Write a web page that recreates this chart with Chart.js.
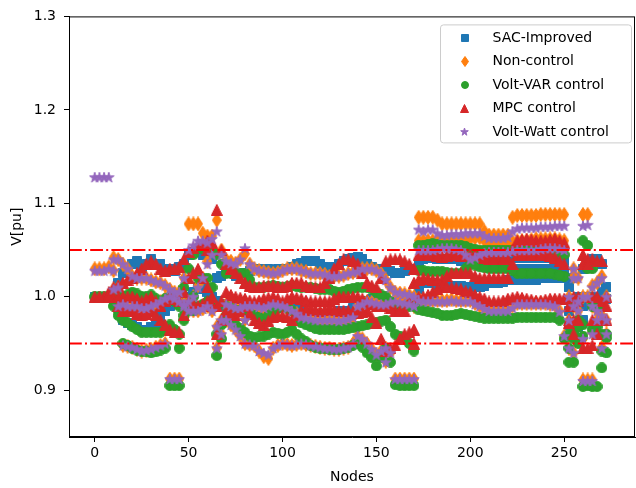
<!DOCTYPE html>
<html>
<head>
<meta charset="utf-8">
<script src="https://cdn.jsdelivr.net/npm/chart.js@4"></script>
<style>
  html, body { margin: 0; padding: 0; background: #fff; }
  #chart { display: block; }
</style>
</head>
<body>
<canvas id="chart" width="636" height="488"></canvas>
<script>
// voltage per node: three phase bands per controller, read at two interleaved node grids

const nodes = [0,5,10,15,20,25,30,35,40,45,50,55,60,65,70,75,80,85,90,95,100,105,110,115,120,125,130,135,140,145,150,155,160,165,170,175,180,185,190,195,200,205,210,215,220,225,230,235,240,245,250,255,260,265,270];
const nodesB = [2.5,7.5,12.5,17.5,22.5,27.5,32.5,37.5,42.5,47.5,52.5,57.5,62.5,67.5,72.5,77.5,82.5,87.5,92.5,97.5,102.5,107.5,112.5,117.5,122.5,127.5,132.5,137.5,142.5,147.5,152.5,157.5,162.5,167.5,172.5,177.5,182.5,187.5,192.5,197.5,202.5,207.5,212.5,217.5,222.5,227.5,232.5,237.5,242.5,247.5,252.5,257.5,262.5,267.5,272.5];

const xTicks = [0, 50, 100, 150, 200, 250];
const yTicks = [0.9, 1.0, 1.1, 1.2, 1.3];
const limits = [0.95, 1.05];

const labels = ['SAC-Improved', 'Non-control', 'Volt-VAR control', 'MPC control', 'Volt-Watt control'];

// SAC-Improved
const sacHi = [1.000,1.000,1.005,1.025,1.035,1.030,1.040,1.035,1.030,1.032,1.045,1.050,1.045,1.020,1.025,1.022,1.025,1.030,1.030,1.028,1.030,1.032,1.036,1.038,1.035,1.030,1.035,1.040,1.043,1.035,1.030,1.030,1.025,1.028,1.030,1.040,1.042,1.040,1.040,1.038,1.040,1.040,1.040,1.040,1.040,1.042,1.042,1.042,1.042,1.042,1.038,1.020,1.030,1.040,1.035];
const sacMid = [null,null,0.995,1.000,0.995,1.000,0.990,0.985,0.990,1.000,1.000,1.010,1.005,0.995,0.990,0.985,0.985,0.980,0.983,0.985,0.990,0.990,0.985,0.982,0.980,0.980,0.985,0.985,0.990,0.995,1.000,0.995,0.990,0.995,1.000,1.015,1.015,1.012,1.012,1.012,1.010,1.010,1.015,1.015,1.018,1.018,1.018,1.018,1.020,1.020,1.020,0.995,0.990,1.000,1.005];
const sacLo = [null,null,null,0.975,0.970,0.965,0.968,0.975,null,null,null,null,null,null,null,null,null,null,null,null,null,null,null,null,null,null,null,null,null,null,null,null,null,null,null,null,null,null,null,null,null,null,null,null,null,1.030,1.030,1.030,1.030,1.030,1.028,0.965,0.975,null,0.995];
const sacHiB = [1.000,1.000,1.015,1.030,1.038,1.035,1.035,1.030,1.028,1.035,1.048,1.045,1.040,1.022,1.025,1.025,1.028,1.030,1.030,1.030,1.030,1.035,1.038,1.038,1.032,1.032,1.038,1.042,1.040,1.032,1.030,1.028,1.025,1.030,1.035,1.042,1.040,1.040,1.040,1.040,1.040,1.040,1.040,1.040,1.042,1.042,1.042,1.042,1.042,1.040,1.010,1.000,1.035,1.040,1.010];
const sacMidB = [null,null,1.000,0.998,0.998,0.995,0.988,0.985,0.995,1.000,1.005,1.008,1.000,0.992,0.988,0.985,0.982,0.980,0.985,0.988,0.990,0.988,0.983,0.980,0.980,0.982,0.985,0.988,0.992,0.998,0.998,0.992,0.992,0.998,1.008,1.015,1.013,1.012,1.012,1.011,1.010,1.012,1.015,1.016,1.018,1.018,1.018,1.020,1.020,1.020,0.985,0.990,1.000,1.000,0.998];
const sacLoB = [null,null,null,0.972,0.968,0.965,0.970,null,null,null,null,null,null,null,null,null,null,null,null,null,null,null,null,null,null,null,null,null,null,null,null,null,null,null,null,null,null,null,null,null,null,null,null,null,null,1.030,1.030,1.030,1.030,1.030,0.970,0.968,null,null,null];

// Non-control
const nonHi = [1.030,1.030,1.042,1.035,1.022,1.020,1.018,1.015,1.008,1.005,1.078,1.078,1.065,1.082,1.040,1.036,1.046,1.030,1.027,1.025,1.028,1.030,1.028,1.025,1.025,1.022,1.022,1.025,1.027,1.030,1.028,1.018,1.005,1.003,1.000,1.085,1.085,1.078,1.078,1.078,1.078,1.078,1.066,1.066,1.066,1.087,1.087,1.087,1.088,1.088,1.088,1.030,1.088,1.012,1.022];
const nonMid = [null,null,1.028,0.992,0.990,0.988,0.990,0.995,1.000,0.995,0.995,1.012,1.038,0.968,0.992,0.988,0.990,0.990,0.988,0.992,0.990,0.985,0.978,0.976,0.975,0.975,0.974,0.976,0.990,0.995,0.993,0.992,0.995,0.993,0.990,1.060,1.060,1.060,1.060,1.060,1.062,1.063,1.058,1.058,1.058,1.060,1.060,1.062,1.062,1.062,1.060,0.990,1.000,0.990,0.980];
const nonLo = [null,null,1.008,0.948,0.946,0.942,0.944,0.948,0.912,0.912,0.985,0.985,0.990,0.945,0.975,0.965,0.950,0.948,0.936,0.945,0.950,0.948,0.950,0.948,0.946,0.945,0.944,0.946,0.958,0.950,0.938,0.945,0.912,0.912,0.912,0.997,0.996,0.996,0.997,0.996,0.996,0.990,0.986,0.986,0.986,0.993,0.993,0.993,0.993,0.991,0.958,0.940,0.955,0.911,0.946];
const nonX = [null,null,null,null,null,null,null,null,null,null,null,null,null,null,null,null,0.976,null,null,null,null,null,null,null,null,null,null,null,null,null,null,0.931,null,null,null,null,null,null,null,null,null,null,null,null,null,null,null,null,null,null,null,1.022,0.911,0.962,null];
const nonHiB = [1.030,1.032,1.040,1.030,1.020,1.020,1.016,1.012,1.005,1.020,1.078,1.068,1.065,1.050,1.038,1.040,1.035,1.028,1.026,1.026,1.030,1.030,1.027,1.025,1.024,1.022,1.023,1.026,1.030,1.030,1.025,1.010,1.004,1.002,1.085,1.085,1.082,1.078,1.078,1.078,1.078,1.070,1.066,1.066,1.085,1.087,1.087,1.088,1.088,1.088,1.000,1.020,1.088,1.015,1.000];
const nonMidB = [null,null,1.010,0.990,0.990,0.988,0.992,0.998,0.998,0.992,1.000,1.020,1.050,0.975,0.990,0.988,0.990,0.989,0.990,0.991,0.988,0.982,0.977,0.975,0.975,0.975,0.975,0.978,0.992,0.994,0.992,0.994,0.994,0.992,1.060,1.060,1.060,1.060,1.060,1.061,1.063,1.060,1.058,1.058,1.059,1.060,1.061,1.062,1.062,1.061,0.975,0.995,1.000,0.985,0.975];
const nonLoB = [null,null,0.990,0.947,0.944,0.943,0.946,0.950,0.912,0.990,0.985,0.987,0.985,0.960,0.970,0.958,0.949,0.942,0.934,0.948,0.949,0.949,0.949,0.947,0.945,0.944,0.945,0.950,0.955,0.944,0.942,0.940,0.912,0.912,0.998,0.996,0.996,0.996,0.996,0.996,0.993,0.988,0.986,0.986,0.990,0.993,0.993,0.993,0.992,0.985,0.945,0.985,0.911,0.975,0.960];

// Volt-VAR control
const vvHi = [1.000,1.000,1.000,1.000,1.005,1.000,1.002,0.995,1.000,0.990,1.030,1.052,1.050,1.045,1.025,1.025,1.025,1.010,1.010,1.012,1.010,1.012,1.010,1.010,1.008,1.008,1.005,1.008,1.010,1.010,1.005,1.000,0.990,0.990,0.990,1.055,1.057,1.055,1.055,1.055,1.052,1.050,1.050,1.050,1.050,1.050,1.050,1.050,1.050,1.050,1.045,0.990,1.060,1.030,0.990];
const vvMid = [null,null,0.990,0.975,0.968,0.962,0.962,0.962,0.970,0.960,0.990,1.020,1.020,0.960,0.990,0.985,0.985,0.980,0.975,0.985,0.990,0.985,0.972,0.968,0.965,0.965,0.965,0.966,0.968,0.970,0.972,0.975,0.960,0.955,0.942,1.028,1.027,1.027,1.025,1.025,1.035,1.032,1.030,1.030,1.030,1.025,1.025,1.025,1.025,1.024,1.022,0.955,0.970,0.965,0.960];
const vvLo = [null,null,null,0.950,0.945,0.942,0.940,0.943,0.905,0.905,0.985,0.990,0.995,0.937,0.980,0.970,0.962,0.956,0.958,0.962,0.960,0.965,0.955,0.948,0.945,0.944,0.944,0.946,0.950,0.940,0.926,0.945,0.906,0.905,0.905,0.985,0.983,0.980,0.980,0.982,0.980,0.978,0.977,0.977,0.977,0.978,0.978,0.978,0.978,0.978,0.955,0.930,0.958,0.904,0.924];
const vvX = [null,null,null,null,null,null,null,null,null,0.945,null,null,null,null,null,null,null,null,null,null,null,null,null,null,null,null,null,null,null,null,null,null,null,null,null,null,null,null,null,null,null,null,null,null,null,null,null,null,null,null,null,0.960,0.904,0.990,0.942];
const vvHiB = [1.000,1.000,1.000,1.002,1.003,1.000,0.998,0.998,0.995,1.010,1.045,1.052,1.048,1.035,1.025,1.025,1.018,1.010,1.011,1.011,1.011,1.011,1.010,1.009,1.008,1.006,1.006,1.009,1.010,1.008,1.002,0.995,0.990,0.990,1.055,1.056,1.056,1.055,1.055,1.054,1.051,1.050,1.050,1.050,1.050,1.050,1.050,1.050,1.050,1.048,0.960,0.975,1.055,0.990,0.956];
const vvMidB = [null,1.000,0.985,0.972,0.965,0.962,0.962,0.965,0.965,0.975,1.000,1.020,1.010,0.970,0.988,0.985,0.983,0.978,0.980,0.988,0.988,0.978,0.970,0.966,0.965,0.965,0.965,0.967,0.969,0.971,0.974,0.968,0.958,0.950,1.028,1.027,1.027,1.026,1.025,1.030,1.034,1.031,1.030,1.030,1.028,1.025,1.025,1.025,1.025,1.023,0.945,0.968,1.030,0.968,0.960];
const vvLoB = [null,null,0.980,0.948,0.943,0.941,0.941,0.945,0.905,0.980,0.985,0.992,0.990,0.955,0.975,0.966,0.958,0.957,0.960,0.961,0.962,0.960,0.952,0.946,0.945,0.944,0.945,0.948,0.946,0.935,0.935,0.930,0.905,0.905,0.986,0.984,0.982,0.980,0.981,0.981,0.979,0.977,0.977,0.977,0.977,0.978,0.978,0.978,0.978,0.975,0.930,0.950,0.905,0.904,0.940];

// MPC control
const mpcHi = [1.000,1.000,1.010,1.015,1.020,1.030,1.038,1.030,1.030,1.032,1.048,1.055,1.050,1.093,1.035,1.025,1.015,1.010,1.012,1.012,1.010,1.015,1.015,1.010,1.010,1.020,1.035,1.040,1.035,1.015,1.010,1.038,1.040,1.038,1.030,1.045,1.045,1.043,1.045,1.044,1.045,1.045,1.040,1.040,1.040,1.060,1.062,1.060,1.060,1.062,1.058,1.000,1.045,1.040,1.038];
const mpcMid = [null,null,1.000,1.000,1.000,0.995,1.000,0.990,1.000,0.995,1.020,1.030,1.010,0.990,1.005,1.000,0.998,0.995,0.998,1.000,0.995,1.000,0.998,0.995,0.995,0.995,1.000,1.000,1.000,0.995,0.990,0.990,0.985,0.985,1.015,1.020,1.018,1.018,1.025,1.025,1.025,1.020,1.020,1.020,1.020,1.045,1.045,1.045,1.045,1.042,1.035,0.990,1.035,1.000,0.995];
const mpcLo = [null,null,null,0.985,0.985,0.980,0.985,0.975,0.965,0.962,0.995,0.990,0.995,0.960,0.985,0.980,0.990,0.975,0.970,0.978,0.980,0.975,0.985,0.988,0.985,0.988,0.985,0.985,0.983,0.985,0.972,0.942,0.948,0.960,0.965,1.000,1.005,1.010,1.010,1.008,1.005,1.000,0.995,0.995,0.998,1.000,0.998,0.996,0.997,0.998,0.998,0.975,0.945,0.948,0.975];
const mpcX = [null,null,null,null,null,null,null,null,null,null,null,null,1.060,null,null,null,null,null,null,null,null,null,null,null,null,null,null,null,null,null,null,null,null,null,0.950,null,null,null,null,null,null,null,null,null,null,null,null,null,null,null,null,0.960,null,0.975,null];
const mpcHiB = [1.000,1.005,1.012,1.018,1.025,1.035,1.035,1.028,1.030,1.040,1.052,1.055,1.058,1.050,1.030,1.020,1.012,1.010,1.012,1.011,1.012,1.015,1.012,1.010,1.015,1.030,1.040,1.038,1.025,1.012,1.020,1.040,1.040,1.035,1.045,1.045,1.044,1.044,1.045,1.045,1.045,1.042,1.040,1.040,1.050,1.061,1.061,1.060,1.061,1.060,0.990,1.000,1.040,1.038,1.000];
const mpcMidB = [null,1.000,1.000,1.000,0.998,0.998,0.995,0.995,0.998,1.005,1.025,1.020,1.000,0.995,1.002,0.999,0.996,0.996,0.999,0.998,0.998,0.999,0.996,0.995,0.995,0.998,1.000,1.000,0.998,0.992,0.990,0.988,0.985,0.995,1.018,1.019,1.018,1.022,1.025,1.025,1.022,1.020,1.020,1.020,1.035,1.045,1.045,1.045,1.044,1.038,0.975,0.995,1.035,1.000,0.990];
const mpcLoB = [null,null,0.990,0.985,0.982,0.982,0.980,0.970,0.962,0.980,0.992,0.992,0.990,0.975,0.982,0.985,0.982,0.972,0.974,0.979,0.978,0.980,0.986,0.986,0.986,0.986,0.985,0.984,0.984,0.978,0.955,0.945,0.955,0.962,1.000,1.002,1.008,1.010,1.009,1.006,1.002,0.998,0.995,0.996,0.999,0.999,0.997,0.996,0.998,0.998,0.972,0.975,0.945,0.960,0.975];

// Volt-Watt control
const vwHi = [1.128,1.128,1.040,1.035,1.022,1.020,1.018,1.015,1.008,1.005,1.050,1.060,1.058,1.070,1.038,1.035,1.052,1.030,1.027,1.025,1.028,1.030,1.028,1.025,1.025,1.022,1.022,1.025,1.027,1.030,1.028,1.018,1.005,1.003,1.000,1.070,1.072,1.066,1.067,1.067,1.068,1.068,1.063,1.063,1.064,1.073,1.074,1.074,1.075,1.076,1.076,1.030,1.076,1.010,1.020];
const vwMid = [1.028,1.028,1.028,0.992,0.990,0.988,0.990,0.995,1.000,0.995,0.995,1.010,1.035,0.968,0.992,0.988,0.990,0.990,0.988,0.992,0.990,0.985,0.978,0.976,0.975,0.975,0.974,0.976,0.990,0.995,0.993,0.992,0.995,0.993,0.990,1.050,1.050,1.052,1.052,1.050,1.040,1.045,1.048,1.048,1.048,1.050,1.050,1.050,1.052,1.052,1.050,0.990,1.000,0.990,0.980];
const vwLo = [null,null,1.008,0.948,0.946,0.942,0.944,0.948,0.912,0.912,0.985,0.985,0.990,0.945,0.975,0.965,0.950,0.948,0.940,0.945,0.950,0.948,0.950,0.948,0.946,0.945,0.944,0.946,0.958,0.950,0.938,0.945,0.912,0.912,0.912,0.995,0.995,0.995,0.996,0.995,0.995,0.990,0.985,0.985,0.985,0.992,0.992,0.992,0.992,0.990,0.958,0.940,0.955,0.910,0.945];
const vwX = [null,null,null,null,null,null,null,null,null,null,null,null,null,null,null,null,0.975,null,null,null,null,null,null,null,null,null,null,null,null,null,null,0.930,null,null,null,null,null,null,null,null,null,null,null,null,null,null,null,null,null,null,null,1.020,0.910,0.960,null];
const vwHiB = [1.128,1.128,1.040,1.030,1.020,1.020,1.016,1.012,1.005,1.020,1.055,1.060,1.062,1.045,1.036,1.040,1.035,1.028,1.026,1.026,1.030,1.030,1.027,1.025,1.024,1.022,1.023,1.026,1.030,1.030,1.025,1.010,1.004,1.002,1.072,1.072,1.068,1.066,1.067,1.068,1.068,1.065,1.063,1.063,1.070,1.074,1.074,1.075,1.075,1.076,1.000,1.020,1.077,1.015,1.000];
const vwMidB = [1.028,1.030,1.010,0.990,0.990,0.988,0.992,0.998,0.998,0.992,1.000,1.020,1.045,0.975,0.990,0.988,0.990,0.989,0.990,0.991,0.988,0.982,0.977,0.975,0.975,0.975,0.975,0.978,0.992,0.994,0.992,0.994,0.994,0.992,1.050,1.050,1.051,1.052,1.051,1.045,1.042,1.047,1.048,1.048,1.049,1.050,1.050,1.051,1.052,1.051,0.975,0.995,1.000,0.985,0.975];
const vwLoB = [null,null,0.990,0.947,0.944,0.943,0.946,0.950,0.912,0.990,0.985,0.987,0.985,0.960,0.970,0.958,0.949,0.942,0.938,0.948,0.949,0.949,0.949,0.947,0.945,0.944,0.945,0.950,0.955,0.944,0.942,0.940,0.912,0.912,0.996,0.995,0.995,0.995,0.995,0.995,0.992,0.987,0.985,0.985,0.988,0.992,0.992,0.992,0.991,0.984,0.945,0.985,0.910,0.975,0.960];

const colors = ['#1f77b4', '#ff7f0e', '#2ca02c', '#d62728', '#9467bd'];
const shapes = ['square', 'diamond', 'circle', 'triangle', 'star'];
const FONT = '"DejaVu Sans", "Liberation Sans", sans-serif';

function toPoints(groups) {
    const pts = [];
    groups.forEach(([xs, band]) => {
        band.forEach((v, i) => {
            if (v !== null) pts.push({ x: xs[i], y: v });
        });
    });
    return pts;
}

// matplotlib-like filled markers drawn into small canvases
function makeMarker(shape, color, s) {
    const sizes = {
        square: [10 * s, 10 * s],
        diamond: [10 * s, 15 * s],
        circle: [11 * s, 11 * s],
        triangle: [12 * s, 12 * s],
        star: [12 * s, 12 * s]
    };
    const w = Math.round(sizes[shape][0]), h = Math.round(sizes[shape][1]);
    const c = document.createElement('canvas');
    c.width = w; c.height = h;
    const g = c.getContext('2d');
    g.fillStyle = color;
    g.strokeStyle = color;
    g.lineWidth = 1;
    g.beginPath();
    const cx = w / 2, cy = h / 2;
    if (shape === 'square') {
        g.rect(0.5, 0.5, w - 1, h - 1);
    } else if (shape === 'diamond') {
        g.moveTo(cx, 0.5); g.lineTo(w - 0.5, cy); g.lineTo(cx, h - 0.5); g.lineTo(0.5, cy);
        g.closePath();
    } else if (shape === 'circle') {
        g.arc(cx, cy, w / 2 - 0.5, 0, Math.PI * 2);
    } else if (shape === 'triangle') {
        g.moveTo(cx, 0.5); g.lineTo(w - 0.5, h - 0.5); g.lineTo(0.5, h - 0.5);
        g.closePath();
    } else {
        const R = w / 2 - 0.5, r = R * 0.382;
        for (let k = 0; k < 10; k++) {
            const a = -Math.PI / 2 + k * Math.PI / 5;
            const rr = k % 2 ? r : R;
            const px = cx + rr * Math.cos(a), py = cy + 0.5 + rr * Math.sin(a);
            if (k === 0) g.moveTo(px, py); else g.lineTo(px, py);
        }
        g.closePath();
    }
    g.fill();
    g.stroke();
    return c;
}

const markers = shapes.map((s, i) => makeMarker(s, colors[i], 1));
const legendMarkers = shapes.map((s, i) => makeMarker(s, colors[i], 0.75));

const seriesGroups = [
    [[nodes, sacHi], [nodesB, sacHiB], [nodes, sacMid], [nodesB, sacMidB], [nodes, sacLo], [nodesB, sacLoB]],
    [[nodes, nonHi], [nodesB, nonHiB], [nodes, nonMid], [nodesB, nonMidB], [nodes, nonLo], [nodesB, nonLoB], [nodes, nonX]],
    [[nodes, vvHi], [nodesB, vvHiB], [nodes, vvMid], [nodesB, vvMidB], [nodes, vvLo], [nodesB, vvLoB], [nodes, vvX]],
    [[nodes, mpcHi], [nodesB, mpcHiB], [nodes, mpcMid], [nodesB, mpcMidB], [nodes, mpcLo], [nodesB, mpcLoB], [nodes, mpcX]],
    [[nodes, vwHi], [nodesB, vwHiB], [nodes, vwMid], [nodesB, vwMidB], [nodes, vwLo], [nodesB, vwLoB], [nodes, vwX]]
];

const datasets = seriesGroups.map((groups, i) => ({
    label: labels[i],
    data: toPoints(groups),
    pointStyle: markers[i],
    pointRadius: 5,
    pointHoverRadius: 5,
    order: 5 - i
}));

// limit lines, frame and legend box
const extras = {
    id: 'extras',
    afterDatasetsDraw(chart) {
        const ctx = chart.ctx;
        const a = chart.chartArea;
        const ys = chart.scales.y;
        ctx.save();
        ctx.strokeStyle = '#ff0000';
        ctx.lineWidth = 2;
        ctx.setLineDash([12.8, 3.2, 2, 3.2]);
        limits.forEach(v => {
            const y = ys.getPixelForValue(v);
            ctx.beginPath();
            ctx.moveTo(a.left, y);
            ctx.lineTo(a.right, y);
            ctx.stroke();
        });
        ctx.restore();
    },
    afterDraw(chart) {
        const ctx = chart.ctx;
        const a = chart.chartArea;
        ctx.save();
        ctx.strokeStyle = '#000';
        ctx.lineWidth = 1;
        ctx.strokeRect(a.left + 0.5, a.top + 0.5, a.right - a.left - 1, a.bottom - a.top - 1);

        // legend (upper right)
        const bx = a.right - 194.5, by = a.top + 8.5, bw = 191, bh = 118;
        ctx.beginPath();
        ctx.roundRect(bx, by, bw, bh, 3);
        ctx.fillStyle = 'rgba(255,255,255,0.8)';
        ctx.fill();
        ctx.strokeStyle = '#cccccc';
        ctx.stroke();
        ctx.font = '14px ' + FONT;
        ctx.fillStyle = '#000';
        ctx.textBaseline = 'middle';
        labels.forEach((lab, i) => {
            const y = by + 13 + i * 23.5;
            const m = legendMarkers[i];
            ctx.drawImage(m, Math.round(bx + 24 - m.width / 2), Math.round(y - m.height / 2));
            ctx.fillText(lab, bx + 52, y);
        });
        ctx.restore();
    }
};

new Chart(document.getElementById('chart'), {
    type: 'scatter',
    data: { datasets: datasets },
    options: {
        responsive: false,
        animation: false,
        devicePixelRatio: 1,
        layout: { autoPadding: false, padding: { top: 12, right: 1, left: 0, bottom: 0 } },
        plugins: {
            legend: { display: false },
            tooltip: { enabled: false }
        },
        scales: {
            x: {
                type: 'linear',
                min: -13.7,
                max: 287.7,
                afterBuildTicks: s => { s.ticks = xTicks.map(v => ({ value: v })); },
                afterFit: s => { s.height = 51; s.paddingLeft = 0; s.paddingRight = 0; },
                ticks: { font: { size: 14, family: FONT }, color: '#000', padding: 3, maxRotation: 0 },
                grid: { display: true, drawOnChartArea: false, tickLength: 5, color: '#000' },
                border: { display: true, color: '#000' },
                title: { display: true, text: 'Nodes', font: { size: 14, family: FONT }, color: '#000', padding: { top: 0, bottom: 2 } }
            },
            y: {
                min: 0.85,
                max: 1.3,
                afterBuildTicks: s => { s.ticks = yTicks.map(v => ({ value: v })); },
                afterFit: s => { s.width = 69; },
                ticks: { font: { size: 14, family: FONT }, color: '#000', padding: 8, callback: v => v.toFixed(1) },
                grid: { display: true, drawOnChartArea: false, tickLength: 5, color: '#000' },
                border: { display: true, color: '#000' },
                title: { display: true, text: 'V[pu]', font: { size: 14, family: FONT }, color: '#000', padding: { top: 9, bottom: 0 } }
            }
        }
    },
    plugins: [extras]
});
</script>
</body>
</html>
